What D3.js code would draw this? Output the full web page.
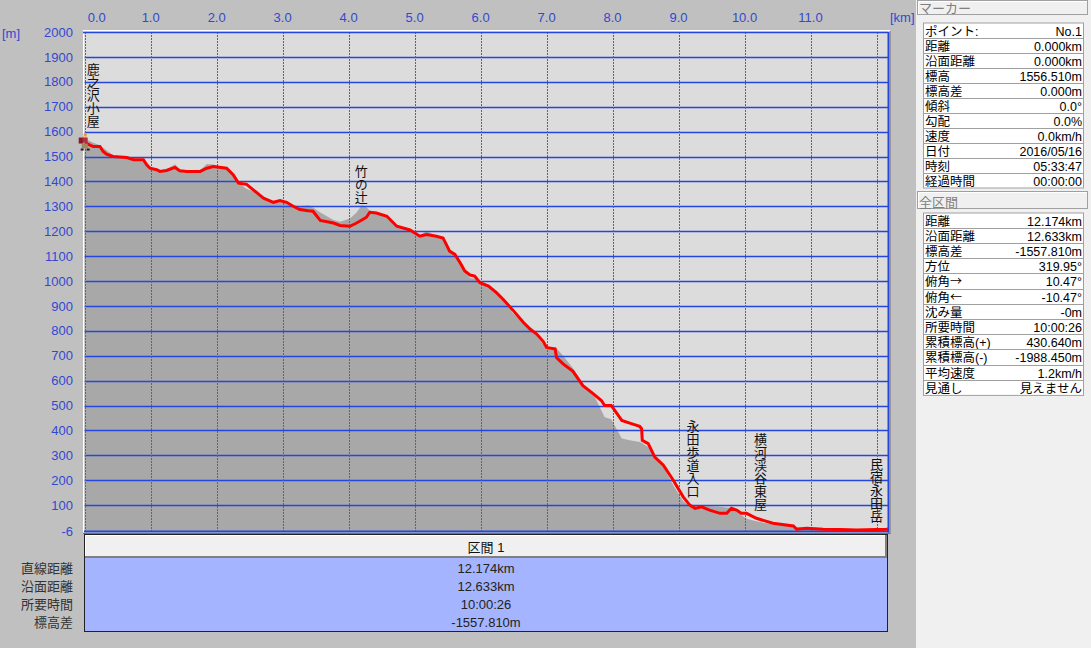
<!DOCTYPE html>
<html><head><meta charset="utf-8">
<script src="https://cdn.jsdelivr.net/npm/d3@7/dist/d3.min.js"></script>
<style>
body{margin:0;background:#c0c0c0;overflow:hidden;}
svg{display:block;font-family:"Liberation Sans","Noto Sans CJK JP",sans-serif;}
</style>
</head><body>
<svg id="c" width="1091" height="648"></svg>
<script>
// ---------- DATA ----------
const distKm = [0.00,0.05,0.13,0.23,0.28,0.33,0.43,0.64,0.74,0.89,0.94,0.99,1.09,1.14,1.24,1.37,1.44,1.55,1.75,1.85,1.95,2.15,2.25,2.33,2.45,2.55,2.71,2.86,2.96,3.06,3.16,3.26,3.39,3.46,3.57,3.77,3.87,4.02,4.12,4.20,4.27,4.32,4.42,4.58,4.73,4.93,5.08,5.18,5.33,5.43,5.48,5.53,5.61,5.69,5.76,5.84,5.91,5.99,6.12,6.24,6.34,6.49,6.65,6.75,6.85,6.95,7.00,7.13,7.15,7.25,7.40,7.55,7.71,7.83,7.88,7.98,8.14,8.26,8.41,8.44,8.45,8.54,8.64,8.77,8.92,9.07,9.17,9.25,9.35,9.47,9.63,9.73,9.80,9.88,9.95,10.03,10.18,10.43,10.74,10.79,10.94,11.19,11.45,11.70,12.15,12.174];
const trackElev = [1556,1550,1540,1540,1520,1509,1500,1496,1487,1487,1467,1453,1447,1440,1444,1456,1443,1440,1440,1453,1460,1453,1427,1393,1389,1367,1333,1316,1323,1316,1300,1287,1282,1280,1243,1233,1223,1220,1233,1245,1256,1276,1273,1260,1220,1205,1180,1187,1180,1173,1147,1120,1107,1073,1040,1024,1020,993,980,953,927,883,833,807,787,757,733,727,693,667,637,580,547,520,500,500,440,429,416,407,360,347,293,260,200,133,100,87,93,80,67,67,87,80,67,67,47,27,16,3,7,3,2,0,3,4];
const terrainElev = [1556,1565,1555,1545,1535,1525,1505,1498,1490,1490,1470,1455,1450,1445,1450,1469,1448,1442,1445,1470,1468,1455,1430,1395,1370,1360,1335,1318,1325,1318,1305,1300,1304,1295,1275,1245,1238,1251,1275,1304,1296,1283,1278,1262,1222,1207,1185,1200,1182,1175,1150,1122,1108,1075,1035,1012,1010,995,978,950,925,870,830,805,780,745,735,735,730,700,650,585,545,480,453,445,367,360,353,350,348,333,290,255,180,115,95,95,95,95,93,90,88,80,60,45,35,22,15,12,10,8,6,3,2,2];

const xTickKm = [0,1,2,3,4,5,6,7,8,9,10,11];
const xGridKm = [0,1,2,3,4,5,6,7,8,9,10,11,12];
const yTickM = [2000,1900,1800,1700,1600,1500,1400,1300,1200,1100,1000,900,800,700,600,500,400,300,200,100,-6];

const waypointNames = ["鹿之沢小屋","竹の辻","永田歩道入口","横河渓谷東屋","民宿永田岳"];
const waypointKm = [0.13,4.19,9.22,10.24,12.0];
const waypointElev = [1592,1288,108,56,4];

const markerHeader = "マーカー";
const markerLabels = ["ポイント:","距離","沿面距離","標高","標高差","傾斜","勾配","速度","日付","時刻","経過時間"];
const markerValues = ["No.1","0.000km","0.000km","1556.510m","0.000m","0.0°","0.0%","0.0km/h","2016/05/16","05:33:47","00:00:00"];

const totalHeader = "全区間";
const totalLabels = ["距離","沿面距離","標高差","方位","俯角→","俯角←","沈み量","所要時間","累積標高(+)","累積標高(-)","平均速度","見通し"];
const totalValues = ["12.174km","12.633km","-1557.810m","319.95°","10.47°","-10.47°","-0m","10:00:26","430.640m","-1988.450m","1.2km/h","見えません"];

const sectionHeader = "区間 1";
const sectionLabels = ["直線距離","沿面距離","所要時間","標高差"];
const sectionValues = ["12.174km","12.633km","10:00:26","-1557.810m"];

// ---------- DRAW ----------
const svg = d3.select("#c");
const BLUE = "#2546dc", TXT = "#3348d0";
const L = 84.7, R = 888, T = 32, B = 531.5;
const x = d3.scaleLinear().domain([0, 12.174]).range([L, R]);
const y = d3.scaleLinear().domain([-6, 2000]).range([B, T]);

// plot background
svg.append("rect").attr("x",83).attr("y",30).attr("width",R-83+2).attr("height",B-30+1).attr("fill","#fff");
svg.append("rect").attr("x",84).attr("y",31).attr("width",R-84).attr("height",B-31).attr("fill","#dcdcdc");

// terrain
const pts = distKm.map((d,i)=>({d, t:trackElev[i], g:terrainElev[i]}));
svg.append("path").datum(pts)
  .attr("d", d3.area().x(p=>x(p.d)).y0(y(-6)).y1(p=>y(p.g)))
  .attr("fill","#a8a8a8");

// horizontal grid
svg.append("g").selectAll("line").data(yTickM.filter(v=>v>0 && v<2000)).join("line")
  .attr("x1",L).attr("x2",R).attr("y1",d=>Math.round(y(d))+0.5).attr("y2",d=>Math.round(y(d))+0.5)
  .attr("stroke",BLUE).attr("stroke-width",1.3);
// vertical grid (dotted)
svg.append("g").attr("shape-rendering","crispEdges").selectAll("line").data(xGridKm).join("line")
  .attr("x1",d=>Math.round(x(d))+0.5).attr("x2",d=>Math.round(x(d))+0.5).attr("y1",T).attr("y2",B)
  .attr("stroke","#3a5cff").attr("stroke-width",1).attr("stroke-dasharray","1.5,1.5");

// borders
svg.append("line").attr("x1",83).attr("x2",R+1).attr("y1",T+0.5).attr("y2",T+0.5).attr("stroke",BLUE).attr("stroke-width",1.5);
svg.append("line").attr("x1",84).attr("x2",R+1).attr("y1",B).attr("y2",B).attr("stroke",BLUE).attr("stroke-width",2);
svg.append("line").attr("x1",R+0.5).attr("x2",R+0.5).attr("y1",T).attr("y2",B+1).attr("stroke",BLUE).attr("stroke-width",2);
svg.append("line").attr("x1",R+2).attr("x2",R+2).attr("y1",T-1).attr("y2",B+2).attr("stroke","#707070").attr("stroke-width",1);
svg.append("line").attr("x1",83).attr("x2",R+2.5).attr("y1",B+2).attr("y2",B+2).attr("stroke","#707070").attr("stroke-width",1);

// track
svg.append("path").datum(pts)
  .attr("d", d3.line().x(p=>x(p.d)).y(p=>y(p.t)))
  .attr("fill","none").attr("stroke","#ff0000").attr("stroke-width",3).attr("stroke-linejoin","miter");

// axes labels
svg.append("g").selectAll("text").data(xTickKm).join("text")
  .attr("x",d=> d===0 ? x(d)+12 : x(d)).attr("y",22).attr("text-anchor","middle")
  .attr("fill",TXT).attr("font-size",13).text(d=>d.toFixed(1));
svg.append("text").attr("x",890).attr("y",22).attr("fill",TXT).attr("font-size",13).text("[km]");
svg.append("text").attr("x",2).attr("y",38).attr("fill",TXT).attr("font-size",13).text("[m]");
svg.append("g").selectAll("text").data(yTickM).join("text")
  .attr("x",73).attr("y",d=>y(d)).attr("dy","0.36em").attr("text-anchor","end")
  .attr("fill",TXT).attr("font-size",13).text(d=>d);

// waypoint vertical labels (single vertical text each)
svg.append("g").selectAll("text").data(waypointNames).join("text")
  .attr("transform",(d,i)=>`translate(${x(waypointKm[i])},${y(waypointElev[i]) - 6})`)
  .style("writing-mode","vertical-rl").style("text-orientation","upright")
  .attr("text-anchor","end").attr("font-size",13).attr("fill","#111")
  .attr("font-family","Noto Sans CJK JP")
  .text(d=>d);

// hiker icon at start
const hx = x(0), hy = y(trackElev[0]);
const hk = svg.append("g").attr("transform",`translate(${hx-6},${hy-9})`);
hk.append("rect").attr("x",5).attr("y",0).attr("width",3).attr("height",3).attr("fill","#e88a30");
hk.append("rect").attr("x",4).attr("y",2).attr("width",4).attr("height",2).attr("fill","#f0c080");
hk.append("rect").attr("x",0).attr("y",4).attr("width",5).attr("height",6).attr("fill","#8a1a2a");
hk.append("rect").attr("x",4).attr("y",4).attr("width",5).attr("height",5).attr("fill","#b03040");
hk.append("rect").attr("x",3).attr("y",10).attr("width",6).attr("height",5).attr("fill","#a08860");
hk.append("rect").attr("x",2).attr("y",15).attr("width",3).attr("height",2).attr("fill","#222");
hk.append("rect").attr("x",8).attr("y",15).attr("width",3).attr("height",2).attr("fill","#222");

// ---------- bottom section table ----------
const tL = 84, tR = 888;
svg.append("rect").attr("x",tL+0.5).attr("y",534.5).attr("width",tR-tL-1).attr("height",97).attr("fill","#a4b4ff").attr("stroke","#222");
svg.append("rect").attr("x",tL+1).attr("y",535).attr("width",tR-tL-2).attr("height",23).attr("fill","#f0f0f0");
svg.append("path").attr("d",`M${tL+1.5},557.5 V535.5 H${tR-1.5}`).attr("fill","none").attr("stroke","#fff");
svg.append("path").attr("d",`M${tL+1},557 H${tR-2} V535`).attr("fill","none").attr("stroke","#808080").attr("stroke-width",2);
svg.append("text").attr("x",(tL+tR)/2).attr("y",547).attr("dy","0.36em").attr("text-anchor","middle").attr("font-size",13).attr("fill","#111").text(sectionHeader);
svg.append("g").selectAll("text").data(sectionValues).join("text")
  .attr("x",(tL+tR)/2).attr("y",(d,i)=>568+i*18).attr("dy","0.36em").attr("text-anchor","middle")
  .attr("font-size",13).attr("fill","#222").text(d=>d);
svg.append("g").selectAll("text").data(sectionLabels).join("text")
  .attr("x",73).attr("y",(d,i)=>568+i*18).attr("dy","0.36em").attr("text-anchor","end")
  .attr("font-size",13).attr("fill","#333").text(d=>d);

// ---------- right panel ----------
svg.append("rect").attr("x",916).attr("y",0).attr("width",175).attr("height",648).attr("fill","#f0f0f0");
function header(yTop, h, label){
  svg.append("rect").attr("x",917.5).attr("y",yTop+0.5).attr("width",170).attr("height",h).attr("fill","#f0f0f0").attr("stroke","#a0a0a0");
  svg.append("path").attr("d",`M918.5,${yTop+h} V${yTop+1.5} H1087`).attr("fill","none").attr("stroke","#fff");
  svg.append("text").attr("x",919).attr("y",yTop+h-1.5).attr("font-size",13).attr("fill","#808080").text(label);
}
function table(yTop, rowH, labels, values){
  const g = svg.append("g");
  g.append("rect").attr("x",923.5).attr("y",yTop+0.5).attr("width",160).attr("height",rowH*labels.length).attr("fill","#fff").attr("stroke","#a0a0a0");
  labels.forEach((lab,i)=>{
    const ry = yTop + i*rowH;
    if(i>0) g.append("line").attr("x1",924).attr("x2",1084).attr("y1",Math.round(ry)+0.5).attr("y2",Math.round(ry)+0.5).attr("stroke","#a0a0a0");
    const t = g.append("text").attr("x",925).attr("y",ry+rowH/2+1).attr("dy","0.36em").attr("font-size",12.5).attr("fill","#000");
    // arrows drawn in the CJK font (full width) like the reference
    lab.split(/([→←])/).filter(s=>s.length).forEach(part=>{
      const sp = t.append("tspan").text(part);
      if (part==="→"||part==="←") sp.attr("font-family","Noto Sans CJK JP").attr("font-size",12);
    });
    g.append("text").attr("x",1082).attr("y",ry+rowH/2+1).attr("dy","0.36em").attr("text-anchor","end").attr("font-size",12.5).attr("fill","#000").text(values[i]);
  });
}
header(0, 14, markerHeader);
table(22.5, 15, markerLabels, markerValues);
header(191, 17, totalHeader);
table(212.5, 15.2, totalLabels, totalValues);
</script>
</body></html>
